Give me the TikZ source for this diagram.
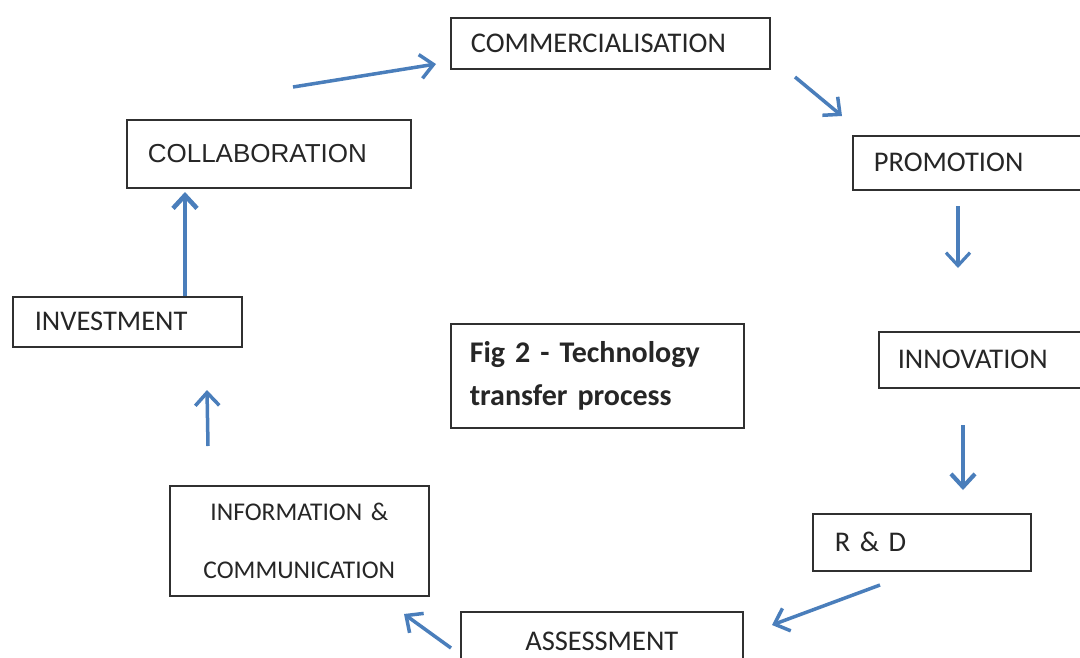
\documentclass[tikz,border=0pt]{standalone}
\usepackage{fontspec}
\setmainfont{Carlito}[WordSpace=0.8]
\newfontfamily\arialfont{Liberation Sans}
\usetikzlibrary{arrows.meta}
\definecolor{flowblue}{HTML}{4A7EBB}
\definecolor{boxline}{HTML}{303030}
\tikzset{
  stage/.style={draw=boxline, line width=1.6pt, anchor=north west, inner ysep=0pt,
    font=\fontsize{28.5}{32}\selectfont, text=black!85},
  flow/.style={draw=flowblue, line width=3.5pt,
    -{Straight Barb[length=13pt, width=24pt]}},
}
\begin{document}
\begin{tikzpicture}[x=1pt, y=-1pt]
\useasboundingbox (0,0) rectangle (1080,657);
\clip (0,0) rectangle (1080,657);
\fill[white] (0,0) rectangle (1080,657);

% process stages (x, y of top-left corner, width, height)
\node[stage, minimum width=319pt, minimum height=51pt, text width=299pt, inner xsep=10pt, align=left] (comm) at (450,17) {\hspace*{10pt}COMMERCIALISATION};
\node[stage, minimum width=284pt, minimum height=68pt, text width=264pt, inner xsep=10pt, align=left, font=\arialfont\fontsize{26}{30}\selectfont] (coll) at (126,119) {\hspace*{11pt}COLLABORATION\\[10pt]};
\node[stage, minimum width=240pt, minimum height=54pt, text width=220pt, inner xsep=10pt, align=left] (prom) at (852,135) {\hspace*{11pt}PROMOTION};
\node[stage, minimum width=220pt, minimum height=56pt, text width=200pt, inner xsep=10pt, align=left] (inno) at (878,331) {\hspace*{9pt}INNOVATION};
\node[stage, minimum width=218pt, minimum height=57pt, text width=198pt, inner xsep=10pt, align=left] (rnd) at (812,513) {\hspace*{12pt}R \& D};
\node[stage, minimum width=282pt, minimum height=60pt, text width=262pt, inner xsep=10pt, align=center] (asse) at (460,611) {ASSESSMENT\\[10pt]};
\node[stage, minimum width=259pt, minimum height=110pt, text width=239pt, inner xsep=10pt, align=center, font=\fontsize{25.5}{58}\selectfont] (info) at (169,485) {INFORMATION \&\\COMMUNICATION};
\node[stage, minimum width=229pt, minimum height=50pt, text width=209pt, inner xsep=10pt, align=left] (inve) at (12,296) {\hspace*{12pt}INVESTMENT};

% caption box
\node[stage, minimum width=293pt, minimum height=104pt, text width=273pt, inner xsep=10pt, align=left, font=\bfseries\fontsize{30}{43}\selectfont] (fig) at (450,323) {\hspace*{9pt}Fig 2 - Technology\\\hspace*{9pt}transfer process};

% arrow end points
\coordinate (a1s) at (293,87);  \coordinate (a1e) at (436,64);
\coordinate (a2s) at (795,77);  \coordinate (a2e) at (842,116);
\coordinate (a3s) at (958,206); \coordinate (a3e) at (958,268);
\coordinate (a4s) at (963,425); \coordinate (a4e) at (963,490);
\coordinate (a5s) at (880,585); \coordinate (a5e) at (772,625);
\coordinate (a6s) at (451,648); \coordinate (a6e) at (404,614);
\coordinate (a7s) at (208,446); \coordinate (a7e) at (207,390);
\coordinate (a8s) at (185,296); \coordinate (a8e) at (185,192);

\draw[flow] (a1s) -- (a1e);
\draw[flow] (a2s) -- (a2e);
\draw[flow, line width=3.2pt] (a3s) -- (a3e);
\draw[flow, line width=4.2pt] (a4s) -- (a4e);
\draw[flow] (a5s) -- (a5e);
\draw[flow] (a6s) -- (a6e);
\draw[flow] (a7s) -- (a7e);
\draw[flow, line width=4.6pt] (a8s) -- (a8e);
\end{tikzpicture}
\end{document}
